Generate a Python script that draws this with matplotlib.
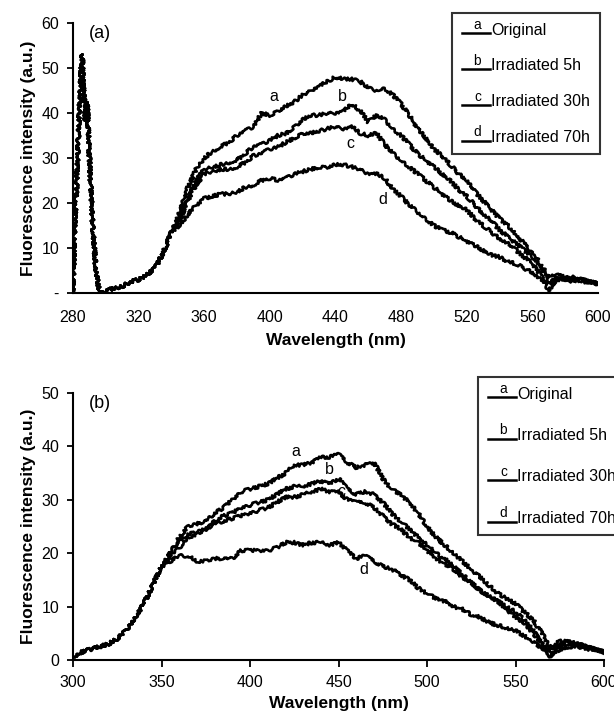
import numpy as np
import matplotlib
matplotlib.use("Agg")
import matplotlib.pyplot as plt
from matplotlib.lines import Line2D
from matplotlib.text import Text
from matplotlib.legend_handler import HandlerBase

plt.rcParams["font.family"] = ["Liberation Sans", "DejaVu Sans"]

series_names = ["Original", "Irradiated 5h", "Irradiated 30h", "Irradiated 70h"]
series_letters = ["a", "b", "c", "d"]

# ---- panel (a): excitation scatter peak + shared rise, then each curve 345..600 nm
top_head_wl = [280, 281, 282, 283, 284, 285.5, 286.5, 287.5, 288.5, 290, 292, 294, 296, 298,
               300, 305, 310, 315, 320, 325, 330, 335, 340]
top_head = [0, 15, 22, 32, 42, 53, 45, 38, 43, 30, 15, 5, 0.5, 0.3,
            0.5, 1, 1.5, 2.5, 3, 4, 5.5, 9, 13.5]
top_tail_wl = np.arange(345, 601, 5)
top_a = [18, 23.5, 27.5, 30, 31.5, 32.5, 33.5, 35, 36, 37, 40, 39.5, 40.5, 41.5, 42.5, 44, 45, 46,
         47, 48, 47.5, 47.5, 47, 45.5, 45, 45.5, 44, 42, 39.5, 36.5, 34.5, 32, 30.5, 28.5, 26.5,
         25, 22.5, 20.5, 18.5, 16.5, 15, 13, 11, 9, 6.5, 3.5, 4, 3.5, 3, 3, 2.5, 2.5]
top_b = [17, 21, 25, 27.5, 28, 28.5, 29, 29.5, 31, 32.5, 33, 34, 35, 35.5, 37, 38.5, 39.5, 39.5,
         40, 40, 40.5, 42, 40.5, 38, 39.5, 38.5, 36.5, 35, 33, 31, 29.5, 28, 26.5, 25, 23, 21.5,
         19.5, 17.5, 16, 14, 12.5, 11, 9.5, 8, 6, 2.5, 3.5, 3, 3.5, 3, 2.5, 2]
top_c = [16, 20.5, 24, 26.5, 27, 27.5, 27.5, 28, 29, 30.5, 31, 32, 32.5, 33.5, 34.5, 35.5, 35.5,
         36, 36.5, 37, 36.5, 37, 35.5, 35, 35.5, 33, 31, 29.5, 28, 26.5, 25, 23.5, 22, 20.5, 19.5,
         18.5, 16.5, 15, 13.5, 12, 11, 9.5, 8, 6.5, 4, 0.5, 3, 3.5, 3, 2.5, 2.5, 2]
top_d = [15, 17.5, 19.5, 21, 21.5, 22, 22, 22.5, 23.5, 24, 25, 25.5, 25, 25.5, 26.5, 27, 27.5, 28,
         28, 28.5, 28.5, 28, 27.5, 26.5, 26.5, 25.5, 23, 21.5, 19.5, 18, 16.5, 15, 14, 13.5, 12.5,
         11.5, 10.5, 9.5, 8.5, 8, 7, 6.5, 5.5, 4.5, 3, 2, 3, 3, 2.5, 3, 2.5, 2]
top_label_pos = [(402.6, 43.6), (444, 43.6), (449, 33.3), (469, 20.8)]

# ---- panel (b): shared rise 300..350 nm, then each curve 355..600 nm
bot_head_wl = np.arange(300, 351, 5)
bot_head = [0.5, 1.5, 2, 2.5, 3, 4, 5.5, 8, 10.5, 14, 17.5]
bot_tail_wl = np.arange(355, 601, 5)
bot_a = [20, 23, 25, 25.5, 26, 27.5, 28.5, 30, 31.5, 32, 32.5, 33, 34, 35, 36.5, 36.5, 37, 38,
         38, 38.5, 37, 36, 36.5, 37, 34, 32, 31, 29.5, 27.5, 25, 23, 21.5, 20, 18.5, 17, 15.5,
         14, 12.5, 11.5, 10.5, 9, 7.5, 5, 2, 3, 3.5, 3, 2.5, 2, 1.5]
bot_b = [20, 22.5, 23.5, 24, 24.5, 26, 27, 27.5, 28.5, 29, 29.5, 30, 31, 32, 32.5, 32.5, 33, 33.5,
         33, 34, 32, 31, 31.5, 31, 29.5, 27.5, 26, 24.5, 23, 21.5, 20, 19, 17.5, 16, 14.5, 13,
         12, 11, 10, 9, 7.5, 5.5, 3, 0.5, 2.5, 3, 2.5, 2.5, 2, 1.5]
bot_c = [19.5, 21, 23, 23.5, 24.5, 25.5, 26, 26.5, 27, 27.5, 28, 28.5, 29.5, 30.5, 30.5, 31, 31.5,
         32, 31.5, 31.5, 30, 29.5, 29.5, 28.5, 27, 25.5, 24.5, 23, 22, 20.5, 19, 18, 17, 15.5,
         14.5, 13, 12, 11, 9.5, 8, 7, 5, 3, 1, 2, 2.5, 2.5, 2, 2, 1.5]
bot_d = [18.5, 19.5, 19.5, 18.5, 18.5, 19, 19, 19, 20.5, 20.5, 20.5, 20.5, 21, 22, 22, 21.5, 22,
         22, 21.5, 22, 20.5, 19, 19.5, 18.5, 17.5, 17, 16, 15, 13.5, 12.5, 11.5, 11, 10, 9.5,
         8.5, 8, 7, 6.5, 6, 5.5, 4.5, 3.5, 2, 2.5, 3.5, 3.5, 3, 2.5, 2, 1.5]
bot_label_pos = [(425.8, 39), (444.6, 35.6), (451.9, 31.6), (464.5, 16.9)]


class LetterLine(HandlerBase):
    """Legend handle: short line with a small letter sitting on it."""
    def __init__(self, letter):
        super().__init__()
        self.letter = letter

    def create_artists(self, legend, orig_handle, xdescent, ydescent, width, height, fontsize, trans):
        y = 0.1 * height - ydescent
        line = Line2D([-xdescent, width - xdescent], [y, y], color="black", lw=1.8, transform=trans)
        txt = Text(0.55 * width - xdescent, y + 1, self.letter, ha="center", va="bottom",
                   fontsize=fontsize * 0.85, transform=trans)
        return [line, txt]


def draw_panel(ax, curves, labels_pos, panel_tag, legend_anchor, spacing):
    handles = []
    for (wl, vals), name in zip(curves, series_names):
        ln, = ax.plot(wl, vals, color="black", lw=1.9, label=name)
        ln.set_sketch_params(scale=1.6, length=2.5, randomness=12)
        handles.append(ln)
    for letter, (x, y) in zip(series_letters, labels_pos):
        ax.text(x, y, letter, ha="center", va="center", fontsize=11.5)
    ax.text(0.03, 0.96, panel_tag, transform=ax.transAxes, fontsize=13, va="center", ha="left")
    for s in ["top", "right"]:
        ax.spines[s].set_visible(False)
    for s in ["left", "bottom"]:
        ax.spines[s].set_linewidth(1.5)
    ax.set_xlabel("Wavelength (nm)", fontsize=12.5, fontweight="bold")
    ax.set_ylabel("Fluorescence intensity (a.u.)", fontsize=12.5, fontweight="bold")
    ax.tick_params(labelsize=11.5, width=1.3)
    leg = ax.legend(handles=handles, handler_map={h: LetterLine(l) for h, l in zip(handles, series_letters)},
                    loc="upper left", bbox_to_anchor=legend_anchor, bbox_transform=ax.figure.transFigure,
                    fontsize=11.5, frameon=True, fancybox=False, edgecolor="black",
                    handlelength=1.8, handletextpad=0.05, labelspacing=spacing,
                    borderpad=0.6, borderaxespad=0)
    leg.get_frame().set_linewidth(1.5)


fig = plt.figure(figsize=(6.14, 7.18), dpi=100)
ax1 = fig.add_axes([73 / 614, 1 - 293 / 718, 525 / 614, 270 / 718])
ax2 = fig.add_axes([73 / 614, 1 - 660 / 718, 531 / 614, 267 / 718])

top_curves = [(list(top_head_wl) + list(top_tail_wl), top_head + c) for c in (top_a, top_b, top_c, top_d)]
draw_panel(ax1, top_curves, top_label_pos, "(a)", (452 / 614, 1 - 13 / 718), 1.3)
ax1.set_xlim(280, 600)
ax1.set_ylim(0, 60)
ax1.set_xticks(np.arange(280, 601, 40))
ax1.set_yticks(np.arange(0, 61, 10))
ax1.set_yticklabels(["-"] + [str(v) for v in range(10, 61, 10)])
ax1.tick_params(axis="x", length=0, pad=12)
ax1.tick_params(axis="y", length=4, pad=6)
ax1.xaxis.labelpad = 6

bot_curves = [(list(bot_head_wl) + list(bot_tail_wl), bot_head + c) for c in (bot_a, bot_b, bot_c, bot_d)]
draw_panel(ax2, bot_curves, bot_label_pos, "(b)", (478 / 614, 1 - 377 / 718), 1.65)
ax2.set_xlim(300, 600)
ax2.set_ylim(0, 50)
ax2.set_xticks(np.arange(300, 601, 50))
ax2.set_yticks(np.arange(0, 51, 10))
ax2.tick_params(axis="x", length=5, pad=6)
ax2.tick_params(axis="y", length=4, pad=6)
ax2.xaxis.labelpad = 4

fig.savefig("out.png", dpi=100)
